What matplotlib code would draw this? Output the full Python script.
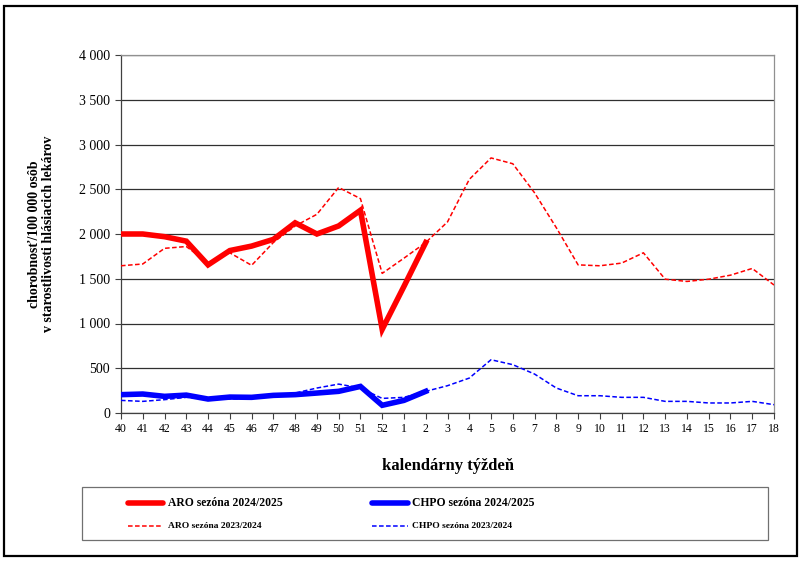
import numpy as np
import matplotlib
matplotlib.use("Agg")
import matplotlib.pyplot as plt
from matplotlib.lines import Line2D
from matplotlib.patches import Rectangle

plt.rcParams['font.family'] = ['Liberation Serif', 'DejaVu Serif']

# calendar weeks 40..52 and 1..18
weeks = [str(w) for w in range(40, 53)] + [str(w) for w in range(1, 19)]

# ARO / CHPO season 2024/2025 (weeks 40..2)
aro_2425 = [2000, 2000, 1970, 1920, 1655, 1815, 1865, 1940, 2125, 2000,
            2090, 2265, 935, 1415, 1905]
chpo_2425 = [205, 212, 186, 200, 156, 178, 175, 197, 205, 223,
             242, 297, 86, 141, 242]

# ARO / CHPO season 2023/2024 (weeks 40..18)
aro_2324 = [1645, 1665, 1840, 1860, 1680, 1790, 1650, 1905, 2090, 2220,
            2520, 2395, 1560, 1730, 1905, 2135, 2610, 2850, 2785, 2460,
            2070, 1655, 1645, 1675, 1790, 1495, 1470, 1495, 1540, 1615, 1430]
chpo_2324 = [141, 130, 149, 175, 163, 156, 163, 197, 223, 279,
             323, 279, 163, 175, 242, 305, 390, 595, 540, 435,
             279, 193, 193, 175, 175, 130, 130, 112, 112, 130, 93]

W, H = 800, 562
fig = plt.figure(figsize=(W / 100, H / 100), dpi=100)
ax = fig.add_axes([121 / W, 1 - 413 / H, (774 - 121) / W, (413 - 55) / H])

x_all = np.arange(len(weeks))
x_cur = np.arange(len(aro_2425))

dash = (0, (3.0, 1.6))
ax.plot(x_all, aro_2324, color='#ff0000', lw=1.1, linestyle=dash, zorder=3)
ax.plot(x_all, chpo_2324, color='#0000ff', lw=1.1, linestyle=dash, zorder=3)
ax.plot(x_cur, aro_2425, color='#ff0000', lw=4.0, zorder=4, solid_joinstyle='miter')
ax.plot(x_cur, chpo_2425, color='#0000ff', lw=4.0, zorder=4, solid_joinstyle='miter')

ax.set_xlim(0, len(weeks) - 1)
ax.set_ylim(0, 4000)
ax.set_xticks(x_all)
ax.set_xticklabels(weeks, fontsize=8.5)
yt = np.arange(0, 4001, 500)
ax.set_yticks(yt)
ax.set_yticklabels([f"{v:,}".replace(",", " ") for v in yt], fontsize=10)
ax.tick_params(axis='both', direction='out', length=4, width=0.8, color='#404040')
ax.tick_params(axis='x', pad=3)
ax.tick_params(axis='y', pad=4)
ax.grid(axis='y', color='#303030', lw=0.9)
ax.set_axisbelow(True)
for s in ['left', 'bottom']:
    ax.spines[s].set_color('#404040')
    ax.spines[s].set_linewidth(0.9)
for s in ['top', 'right']:
    ax.spines[s].set_color('#909090')
    ax.spines[s].set_linewidth(0.9)

ax.set_xlabel('kalendárny týždeň', fontsize=12, fontweight='bold', labelpad=17)
ax.set_ylabel('chorobnosť/100 000 osôb\nv starostlivosti hlásiacich lekárov',
              fontsize=10, fontweight='bold', labelpad=17, linespacing=1.1)


def px(x, y):
    return x / W, 1 - y / H


# outer frame
x0, y0 = px(4, 556)
fig.patches.append(Rectangle((x0, y0), 793 / W, 550 / H, transform=fig.transFigure,
                             fill=False, edgecolor='black', lw=1.6))

# legend box
lx, ly = px(82, 540)
fig.patches.append(Rectangle((lx, ly), 686 / W, 53 / H, transform=fig.transFigure,
                             fill=False, edgecolor='#707070', lw=0.9))

legend_rows = [
    (128, 163, 168, 503, '#ff0000', 4.0, '-', 'ARO sezóna 2024/2025', 8.4),
    (372, 408, 412, 503, '#0000ff', 4.0, '-', 'CHPO sezóna 2024/2025', 8.4),
    (128, 163, 168, 526, '#ff0000', 1.1, dash, 'ARO sezóna 2023/2024', 6.8),
    (372, 408, 412, 526, '#0000ff', 1.1, dash, 'CHPO sezóna 2023/2024', 6.8),
]
for xa, xb, xt, yy, col, lw, ls, lab, fs in legend_rows:
    (ax_, ay_), (bx_, by_) = px(xa, yy), px(xb, yy)
    fig.add_artist(Line2D([ax_, bx_], [ay_, by_], transform=fig.transFigure,
                          color=col, lw=lw, linestyle=ls, solid_capstyle='round'))
    tx, ty = px(xt, yy)
    fig.text(tx, ty, lab, fontsize=fs, fontweight='bold', va='center', ha='left')

fig.savefig('out.png', dpi=100)
